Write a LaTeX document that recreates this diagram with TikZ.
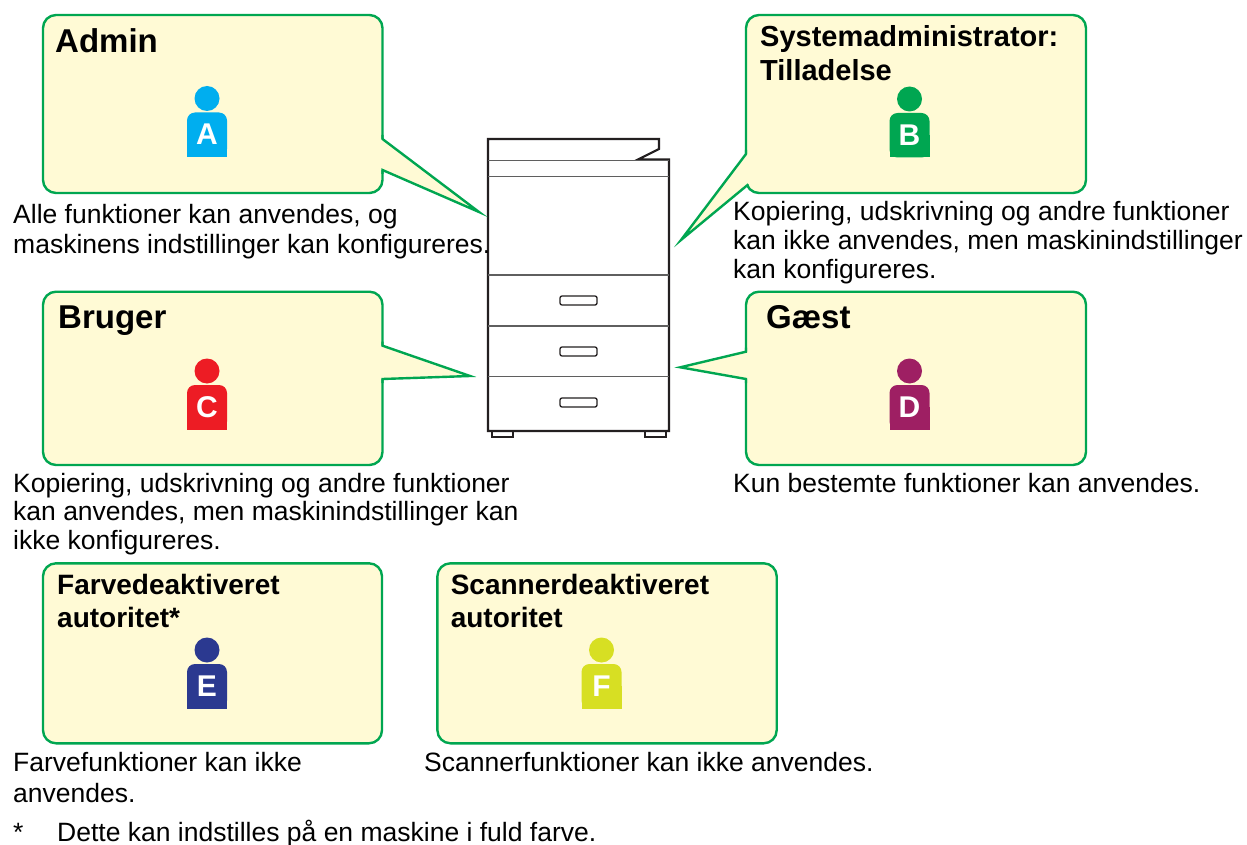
\documentclass[tikz,border=0pt]{standalone}
\usepackage{fontspec}
\setmainfont{Liberation Sans}
\definecolor{boxfill}{RGB}{255,250,213}
\definecolor{boxline}{RGB}{0,166,81}
\definecolor{prn}{RGB}{35,31,32}
\definecolor{prngray}{RGB}{95,95,95}
\definecolor{cA}{RGB}{0,174,239}
\definecolor{cB}{RGB}{0,166,81}
\definecolor{cC}{RGB}{237,28,36}
\definecolor{cD}{RGB}{158,31,99}
\definecolor{cE}{RGB}{43,57,144}
\definecolor{cF}{RGB}{215,223,35}
\tikzset{
 callout/.style={draw=boxline, fill=boxfill, line width=2.4pt, rounded corners=13pt, inner sep=0pt, outer sep=0pt, anchor=north west},
 tailline/.style={draw=boxline, line width=2.4pt, line join=miter},
 title/.style={anchor=base west, inner sep=0pt, font=\bfseries\fontsize{33pt}{36pt}\selectfont},
 subtitle/.style={anchor=base west, inner sep=0pt, align=left, font=\bfseries\fontsize{29pt}{34pt}\selectfont},
 subtitlesm/.style={anchor=base west, inner sep=0pt, align=left, font=\bfseries\fontsize{28pt}{33pt}\selectfont},
 desc/.style={anchor=base west, inner sep=0pt, align=left, font=\fontsize{26.5pt}{29.5pt}\selectfont},
 letter/.style={text=white, font=\bfseries\fontsize{30pt}{30pt}\selectfont, inner sep=0pt},
 prnline/.style={draw=prn, line width=2.2pt},
 prninner/.style={draw=prngray, line width=1.4pt},
 handle/.style={draw=prn, line width=1.3pt, rounded corners=2pt},
}
\newcommand\usericon[5]{%
  \fill[#4] (#2,#3) circle[radius=12.5pt];
  \fill[#4, rounded corners=8pt] ({#2-20},{#3+14}) rectangle ({#2+20},{#3+58.5});
  \fill[#4] ({#2-20},{#3+36}) rectangle ({#2+20},{#3+58.5});
  \node[letter] (#1) at ({#2},{#3+36}) {#5};
}
\begin{document}
\begin{tikzpicture}[x=1pt,y=-1pt]
\useasboundingbox[fill=white] (0,0) rectangle (1247,845);

% ---------- printer ----------
\draw[prnline, line join=miter] (488,139) -- (659,139) -- (659,149) -- (638,159.5) -- (669,159.5) -- (669,431) -- (488,431) -- cycle;
\draw[prninner] (488,160.5) -- (669,160.5);
\draw[prninner] (488,176.7) -- (669,176.7);
\draw[prninner] (488,275) -- (669,275);
\draw[prninner] (488,326) -- (669,326);
\draw[prninner] (488,376.7) -- (669,376.7);
\draw[prnline] (491.7,431) rectangle (512.7,436.7);
\draw[prnline] (645,431) rectangle (665.7,436.7);
\draw[handle] (560,296) rectangle (597,305);
\draw[handle] (560,347) rectangle (597,356);
\draw[handle] (560,398) rectangle (597,407);

\coordinate (tipA) at (479,212);
\coordinate (tipB) at (681,240);
\coordinate (tipC) at (470,376);
\coordinate (tipD) at (680.3,367.3);

% ---------- callout boxes ----------
\node[callout, minimum width=339.5pt, minimum height=178pt] (boxA) at (43,15) {};
\node[callout, minimum width=340pt, minimum height=178pt] (boxB) at (746,15) {};
\node[callout, minimum width=339.5pt, minimum height=173.3pt] (boxC) at (43,291.7) {};
\node[callout, minimum width=340pt, minimum height=173.3pt] (boxD) at (746,291.7) {};
\node[callout, minimum width=339pt, minimum height=180pt] (boxE) at (43,563.3) {};
\node[callout, minimum width=339.3pt, minimum height=180pt] (boxF) at (437.4,563.3) {};

% tails
\fill[boxfill] (378,139) -- (382.5,139) -- (tipA) -- (382.5,170) -- (378,170) -- cycle;
\draw[tailline] (382.5,135) -- (382.5,139) -- (tipA) -- (382.5,170) -- (382.5,174);

\fill[boxfill] (751,154) -- (746,154) -- (tipB) -- (748.4,184.3) -- (753,184.3) -- cycle;
\draw[tailline] (746,150) -- (746,154) -- (tipB) -- (748.4,184.3);

\fill[boxfill] (378,345.7) -- (382.5,345.7) -- (tipC) -- (382.5,379) -- (378,379) -- cycle;
\draw[tailline] (382.5,341.7) -- (382.5,345.7) -- (tipC) -- (382.5,379) -- (382.5,383);

\fill[boxfill] (751,351.7) -- (746,351.7) -- (tipD) -- (746,379) -- (751,379) -- cycle;
\draw[tailline] (746,347.7) -- (746,351.7) -- (tipD) -- (746,379) -- (746,383);

% ---------- titles (multi-line nodes: base = last line) ----------
\node[title] (tA) at (55,53) {Admin};
\node[subtitle] (tB) at (760,81) {Systemadministrator:\\Tilladelse};
\node[title] (tC) at (58,328) {Bruger};
\node[title] (tD) at (766,328) {Gæst};
\node[subtitlesm] (tE) at (57,627) {Farvedeaktiveret\\autoritet*};
\node[subtitlesm] (tF) at (450.6,627) {Scannerdeaktiveret\\autoritet};

% ---------- icons ----------
\usericon{iA}{207}{98.5}{cA}{A}
\usericon{iB}{909.5}{99}{cB}{B}
\usericon{iC}{207}{371}{cC}{C}
\usericon{iD}{909.5}{371}{cD}{D}
\usericon{iE}{207}{650}{cE}{E}
\usericon{iF}{601.5}{650}{cF}{F}

% ---------- descriptions ----------
\node[desc, font=\fontsize{26.5pt}{30.5pt}\selectfont] (dA) at (13,253.5) {Alle funktioner kan anvendes, og\\maskinens indstillinger kan konfigureres.};
\node[desc, font=\fontsize{26.5pt}{29pt}\selectfont] (dB) at (733,278) {Kopiering, udskrivning og andre funktioner\\kan ikke anvendes, men maskinindstillinger\\kan konfigureres.};
\node[desc, font=\fontsize{26.5pt}{28.5pt}\selectfont] (dC) at (13,549) {Kopiering, udskrivning og andre funktioner\\kan anvendes, men maskinindstillinger kan\\ikke konfigureres.};
\node[desc] (dD) at (733,492) {Kun bestemte funktioner kan anvendes.};
\node[desc, font=\fontsize{26.5pt}{30.5pt}\selectfont] (dE) at (13,802) {Farvefunktioner kan ikke\\anvendes.};
\node[desc] (dF) at (424,771) {Scannerfunktioner kan ikke anvendes.};
\node[desc] (star) at (13,841) {*};
\node[desc] (note) at (57,841) {Dette kan indstilles på en maskine i fuld farve.};
\end{tikzpicture}
\end{document}
